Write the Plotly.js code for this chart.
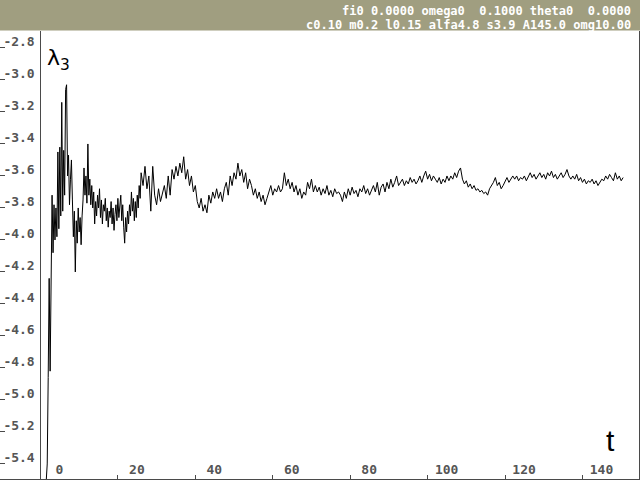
<!DOCTYPE html>
<html>
<head>
<meta charset="utf-8">
<script src="https://cdn.plot.ly/plotly-3.0.1.min.js"></script>
<style>html,body{margin:0;padding:0;background:#fff;}#chart{width:640px;height:480px;}</style>
</head>
<body>
<div id="chart"></div>
<script>
// early transient, sampled every 0.25 time units from t = 1.5
const earlyStart = 1.5;
const earlyStep = 0.25;
const lambdaEarly = [
-5.50,-5.40,-4.86,-4.24,-4.82,-4.30,-3.72,-4.08,-3.78,-4.00,
-3.80,-3.98,-3.45,-3.93,-3.42,-3.85,-3.14,-3.82,-3.44,-3.72,
-3.06,-3.03,-3.60,-3.47,-3.78,-3.62,-3.50,-3.75,-3.98,-3.82,
-4.20,-3.88,-4.02,-3.80,-3.95,-3.86,-4.03,-3.85,-3.75,-3.55,
-3.72,-3.60,-3.77,-3.40,-3.72,-3.62,-3.78,-3.66,-3.80,-3.70,
-3.90,-3.76,-3.85,-3.72,-3.80,-3.68,-3.86,-3.75,-3.90,-3.78,
-3.82,-3.74,-3.88,-3.80,-3.92,-3.82,-3.86,-3.76,-3.90,-3.80,
-3.94,-3.84,-3.78,-3.88,-3.74,-3.86,-3.80,-3.72,-3.88,-3.78,
-3.92,-4.02,-3.86,-3.95,-3.82,-3.90,-3.78,-3.85,-3.70,-3.82,
-3.74,-3.88,-3.76,-3.86,-3.72,-3.80,-3.66,-3.74,-3.58
];
// later part, sampled every 0.5 time units, continuing from the last early sample
const lateStep = 0.5;
const lambdaLate = [
-3.58,-3.66,-3.54,-3.68,-3.60,-3.82,-3.54,-3.72,-3.78,-3.68,
-3.76,-3.70,-3.66,-3.74,-3.60,-3.72,-3.56,-3.62,-3.54,-3.60,
-3.52,-3.58,-3.48,-3.62,-3.56,-3.66,-3.60,-3.70,-3.66,-3.76,
-3.80,-3.74,-3.82,-3.78,-3.83,-3.72,-3.77,-3.70,-3.74,-3.68,
-3.74,-3.70,-3.76,-3.68,-3.64,-3.72,-3.60,-3.66,-3.58,-3.62,
-3.52,-3.60,-3.56,-3.64,-3.58,-3.68,-3.62,-3.66,-3.72,-3.68,
-3.74,-3.70,-3.76,-3.72,-3.78,-3.74,-3.70,-3.66,-3.72,-3.68,
-3.70,-3.66,-3.70,-3.68,-3.58,-3.66,-3.62,-3.68,-3.64,-3.70,
-3.66,-3.72,-3.68,-3.74,-3.70,-3.72,-3.64,-3.68,-3.62,-3.70,
-3.66,-3.70,-3.67,-3.72,-3.68,-3.71,-3.66,-3.72,-3.69,-3.73,
-3.68,-3.71,-3.70,-3.72,-3.76,-3.70,-3.74,-3.68,-3.72,-3.67,
-3.71,-3.69,-3.73,-3.68,-3.70,-3.66,-3.71,-3.68,-3.72,-3.69,
-3.66,-3.70,-3.64,-3.72,-3.67,-3.65,-3.70,-3.64,-3.68,-3.62,
-3.67,-3.64,-3.60,-3.66,-3.64,-3.62,-3.66,-3.63,-3.65,-3.61,
-3.64,-3.62,-3.65,-3.63,-3.60,-3.64,-3.60,-3.57,-3.62,-3.59,
-3.63,-3.60,-3.62,-3.64,-3.61,-3.65,-3.62,-3.64,-3.60,-3.63,
-3.60,-3.62,-3.58,-3.61,-3.57,-3.55,-3.62,-3.65,-3.63,-3.67,
-3.65,-3.68,-3.66,-3.69,-3.68,-3.70,-3.69,-3.71,-3.70,-3.72,
-3.68,-3.66,-3.64,-3.61,-3.66,-3.64,-3.68,-3.66,-3.63,-3.61,
-3.64,-3.62,-3.60,-3.62,-3.60,-3.63,-3.61,-3.62,-3.60,-3.63,
-3.60,-3.58,-3.61,-3.59,-3.62,-3.60,-3.58,-3.61,-3.59,-3.62,
-3.58,-3.60,-3.57,-3.61,-3.59,-3.62,-3.60,-3.58,-3.61,-3.59,
-3.56,-3.60,-3.62,-3.60,-3.62,-3.59,-3.63,-3.61,-3.64,-3.62,
-3.65,-3.63,-3.64,-3.62,-3.65,-3.63,-3.66,-3.64,-3.62,-3.63,
-3.60,-3.62,-3.59,-3.61,-3.63,-3.58,-3.62,-3.60,-3.63,-3.61
];
const xTickVals = [0, 20, 40, 60, 80, 100, 120, 140];
const xTickText = ["0", "20", "40", "60", "80", "100", "120", "140"];
const yTickVals = [-2.8, -3.0, -3.2, -3.4, -3.6, -3.8, -4.0, -4.2, -4.4, -4.6, -4.8, -5.0, -5.2, -5.4];
const yTickText = ["-2.8", "-3.0", "-3.2", "-3.4", "-3.6", "-3.8", "-4.0", "-4.2", "-4.4", "-4.6", "-4.8", "-5.0", "-5.2", "-5.4"];
const headerLine1 = "fi0 0.0000 omega0\u00a0\u00a00.1000 theta0\u00a0\u00a00.0000";
const headerLine2 = "c0.10 m0.2 l0.15 alfa4.8 s3.9 A145.0 omg10.00";

const lateStart = earlyStart + earlyStep * (lambdaEarly.length - 1);
const frame = '#4a4a4a';
const labelFont = {family: 'DejaVu Sans Mono', size: 13, color: '#555555', weight: 'bold'};
const headFont = {family: 'DejaVu Sans Mono', size: 12, color: '#ffffff', weight: 'bold'};

const traces = [
  {type: 'scatter', mode: 'lines', x0: earlyStart, dx: earlyStep, y: lambdaEarly,
   line: {color: '#000', width: 1}, hoverinfo: 'skip', showlegend: false},
  {type: 'scatter', mode: 'lines', x0: lateStart, dx: lateStep, y: lambdaLate,
   line: {color: '#000', width: 1}, hoverinfo: 'skip', showlegend: false}
];

const layout = {
  width: 640, height: 480,
  margin: {l: 0, r: 1, t: 31, b: 1, pad: 0},
  paper_bgcolor: '#ffffff', plot_bgcolor: '#ffffff',
  showlegend: false,
  xaxis: {
    range: [-10.45, 154.6], showgrid: false,
    zeroline: true, zerolinecolor: frame, zerolinewidth: 1,
    showline: true, linecolor: frame, linewidth: 1, mirror: false,
    ticks: 'inside', ticklen: 4, tickcolor: frame, tickwidth: 1,
    tickvals: xTickVals, ticktext: xTickText,
    ticklabelposition: 'inside', ticklabelshift: 19, ticklabelstandoff: -2,
    ticklabeloverflow: 'allow', tickfont: labelFont
  },
  yaxis: {
    range: [-5.494, -2.694], showgrid: false, zeroline: false,
    showline: true, linecolor: frame, linewidth: 1, mirror: true,
    ticks: 'inside', ticklen: 5, tickcolor: frame, tickwidth: 1,
    tickvals: yTickVals, ticktext: yTickText,
    ticklabelposition: 'inside', ticklabelshift: -7, ticklabelstandoff: -2,
    ticklabeloverflow: 'allow', tickfont: labelFont
  },
  shapes: [
    {type: 'rect', xref: 'paper', yref: 'paper', x0: -0.01, x1: 1.01, y0: 1.001, y1: 1.08,
     fillcolor: '#a09e80', line: {width: 0}, layer: 'above'}
  ],
  annotations: [
    {xref: 'paper', yref: 'paper', x: 633/639, y: 1 + (479-11.5 - 448)/448, xanchor: 'right', yanchor: 'middle',
     text: headerLine1, showarrow: false, font: headFont},
    {xref: 'paper', yref: 'paper', x: 633/639, y: 1 + (479-25 - 448)/448, xanchor: 'right', yanchor: 'middle',
     text: headerLine2, showarrow: false, font: headFont},
    {xref: 'paper', yref: 'paper', x: 45/639, y: (479-43)/448, xanchor: 'left', yanchor: 'top',
     text: 'λ<sub>3</sub>', showarrow: false, font: {family: 'DejaVu Sans', size: 22, color: '#000'}},
    {xref: 'paper', yref: 'paper', x: 610/639, y: (479-440)/448, xanchor: 'center', yanchor: 'middle',
     text: 't', showarrow: false, font: {family: 'Liberation Sans', size: 30, color: '#000'}}
  ]
};

Plotly.newPlot('chart', traces, layout, {staticPlot: true, displayModeBar: false});
</script>
</body>
</html>
